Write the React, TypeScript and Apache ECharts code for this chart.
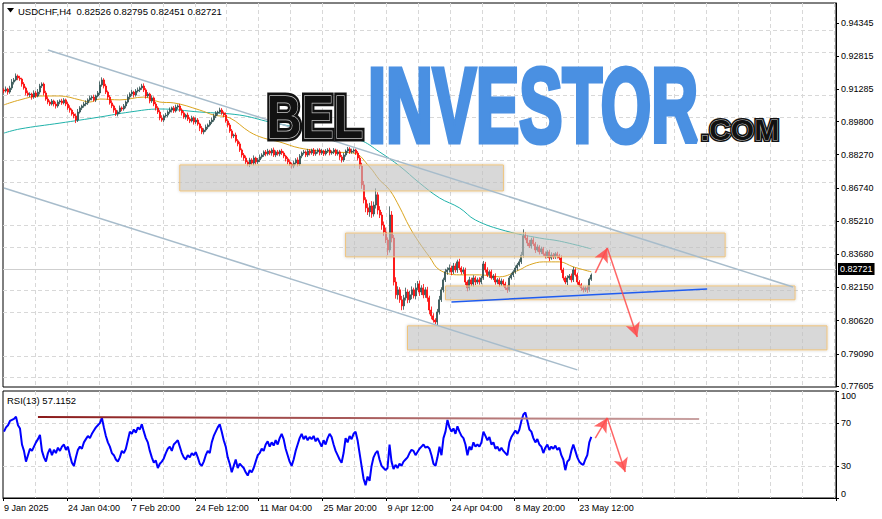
import React, { useEffect, useRef } from "react";
import * as echarts from "echarts";

// ---------- data ----------
const dateLabels = ["9 Jan 2025", "24 Jan 04:00", "7 Feb 20:00", "24 Feb 12:00", "11 Mar 04:00", "25 Mar 20:00", "9 Apr 12:00", "24 Apr 04:00", "8 May 20:00", "23 May 12:00"];
const priceTicks = [0.94345, 0.92815, 0.91285, 0.898, 0.8827, 0.8674, 0.8521, 0.8368, 0.8215, 0.8062, 0.7909, 0.77605];
const rsiTicks = [0, 30, 70, 100];
const rsiGrid = [30, 70];
const ohlcHeader = [0.82526, 0.82795, 0.82451, 0.82721];
const rsiLast = 57.1152;
const firstOpen = 0.9126;

// H4 closes (one entry per 2 bars of the original)
const closes = [
  0.9121, 0.913, 0.9116, 0.9135, 0.9162, 0.9172, 0.919, 0.9181, 0.9176, 0.9153,
  0.9135, 0.9112, 0.9103, 0.9107, 0.9093, 0.9112, 0.9098, 0.9116, 0.9144, 0.9153,
  0.9112, 0.9084, 0.907, 0.9061, 0.9075, 0.9061, 0.9052, 0.907, 0.9075, 0.9066,
  0.908, 0.9061, 0.9043, 0.9033, 0.9015, 0.9006, 0.8987, 0.9024, 0.9043, 0.9052,
  0.9061, 0.9066, 0.908, 0.9089, 0.9093, 0.908, 0.9098, 0.9112, 0.9149, 0.9172,
  0.9144, 0.9116, 0.9093, 0.9066, 0.9052, 0.9033, 0.9015, 0.9024, 0.9043, 0.9038,
  0.9052, 0.907, 0.9093, 0.9107, 0.9116, 0.9103, 0.9121, 0.9126, 0.9135, 0.9144,
  0.9126, 0.9098, 0.9107, 0.9075, 0.9089, 0.9061, 0.9043, 0.9024, 0.8997, 0.8987,
  0.9006, 0.901, 0.9024, 0.9033, 0.9043, 0.9029, 0.9047, 0.9052, 0.9033, 0.902,
  0.9001, 0.901, 0.8992, 0.8983, 0.8997, 0.8978, 0.8987, 0.8969, 0.895, 0.8932,
  0.8941, 0.8955, 0.8964, 0.8978, 0.8987, 0.9006, 0.902, 0.9024, 0.9033, 0.902,
  0.901, 0.8983, 0.8964, 0.8937, 0.8914, 0.8918, 0.8891, 0.8877, 0.8849, 0.8826,
  0.8812, 0.8794, 0.8784, 0.8803, 0.8789, 0.8812, 0.8794, 0.8803, 0.8817, 0.8826,
  0.884, 0.8831, 0.8844, 0.8835, 0.8849, 0.8826, 0.884, 0.8831, 0.8844, 0.8835,
  0.8821, 0.8808, 0.8794, 0.8784, 0.8775, 0.8789, 0.8803, 0.8784, 0.8821, 0.8835,
  0.884, 0.8826, 0.8844, 0.8835, 0.8849, 0.8831, 0.884, 0.8849, 0.8835, 0.8844,
  0.8831, 0.8844, 0.8849, 0.8835, 0.884, 0.8849, 0.8831, 0.884, 0.8817, 0.8803,
  0.8826, 0.8844, 0.8854, 0.884, 0.8844, 0.8849, 0.8835, 0.8812, 0.8775, 0.8688,
  0.8619, 0.8582, 0.8563, 0.8591, 0.8554, 0.8595, 0.8642, 0.8572, 0.8549, 0.8503,
  0.8471, 0.8434, 0.8388, 0.8549, 0.8443, 0.824, 0.8181, 0.8204, 0.8158, 0.813,
  0.8167, 0.8194, 0.8158, 0.8181, 0.8204, 0.8176, 0.8213, 0.8231, 0.8194, 0.8213,
  0.8181, 0.8204, 0.8167, 0.8111, 0.8084, 0.8065, 0.8056, 0.8102, 0.8158, 0.8204,
  0.825, 0.8287, 0.8296, 0.8305, 0.8287, 0.8314, 0.8296, 0.8333, 0.8305, 0.8287,
  0.8296, 0.824, 0.8213, 0.825, 0.8231, 0.8259, 0.824, 0.825, 0.824, 0.8259,
  0.8323, 0.8296, 0.8273, 0.8287, 0.8259, 0.8268, 0.824, 0.825, 0.8231, 0.8245,
  0.8231, 0.8213, 0.8204, 0.8259, 0.8273, 0.8287, 0.8305, 0.8319, 0.8333, 0.8365,
  0.8453, 0.8443, 0.842, 0.8406, 0.8434, 0.8416, 0.8388, 0.8402, 0.8379, 0.8393,
  0.837, 0.8361, 0.8379, 0.8351, 0.8365, 0.8356, 0.837, 0.8361, 0.8351, 0.8296,
  0.8259, 0.824, 0.8259, 0.8268, 0.825, 0.8296, 0.8273, 0.824, 0.8227, 0.8213,
  0.8204, 0.8213, 0.8204, 0.82526, 0.82721,
];

// upper / lower wick lengths in pips, per bar
const wickUp = [
  8, 12, 6, 10, 14, 9, 12, 7, 10, 6, 9, 7, 11, 8, 6, 12, 9, 14, 10, 8,
  7, 10, 12, 8, 9, 6, 11, 9, 7, 10, 8, 6, 10, 12, 7, 9, 11, 14, 8, 6,
  9, 12, 7, 10, 8, 11, 6, 9, 16, 12, 8, 10, 7, 9, 12, 6, 10, 8, 11, 7,
  9, 7, 12, 8, 10, 6, 9, 11, 7, 10, 12, 8, 9, 6, 11, 7, 10, 8, 9, 12,
  7, 10, 8, 12, 6, 9, 11, 7, 10, 8, 9, 6, 11, 8, 10, 7, 12, 9, 6, 10,
  8, 11, 7, 9, 12, 10, 8, 6, 11, 9, 7, 12, 8, 10, 9, 6, 11, 8, 10, 7,
  9, 11, 7, 10, 8, 12, 6, 9, 11, 8, 7, 9, 10, 6, 8, 11, 7, 9, 6, 10,
  8, 6, 9, 11, 7, 10, 8, 12, 9, 7, 9, 7, 10, 8, 6, 9, 11, 7, 8, 10,
  6, 9, 8, 10, 7, 9, 6, 11, 8, 9, 10, 7, 9, 8, 11, 7, 6, 9, 12, 15,
  18, 12, 20, 14, 22, 16, 30, 12, 18, 14, 16, 20, 12, 40, 18, 14, 22, 16, 12, 18,
  14, 20, 12, 18, 16, 10, 22, 14, 16, 12, 18, 12, 14, 10, 16, 12, 8, 14, 18, 12,
  10, 14, 12, 16, 10, 14, 12, 10, 14, 8, 12, 10, 8, 14, 10, 12, 8, 10, 12, 9,
  14, 10, 12, 8, 10, 9, 12, 8, 10, 11, 8, 10, 12, 9, 10, 8, 11, 9, 12, 14,
  30, 16, 12, 14, 10, 12, 9, 11, 8, 10, 9, 11, 8, 10, 12, 9, 8, 10, 9, 12,
  10, 8, 12, 9, 11, 14, 8, 10, 9, 8, 9, 8, 10, 8, 7.4,
];
const wickDown = [
  10, 7, 12, 8, 9, 11, 6, 10, 8, 12, 8, 11, 7, 10, 12, 8, 9, 6, 11, 9,
  12, 8, 10, 9, 7, 11, 12, 8, 10, 9, 7, 10, 9, 12, 8, 11, 14, 9, 7, 10,
  8, 10, 9, 7, 11, 8, 10, 6, 9, 8, 11, 9, 12, 8, 10, 12, 9, 11, 8, 10,
  8, 11, 7, 10, 9, 12, 8, 7, 10, 9, 10, 12, 8, 11, 9, 10, 12, 9, 11, 8,
  9, 7, 10, 8, 11, 9, 7, 10, 8, 12, 8, 11, 9, 10, 7, 12, 9, 8, 14, 10,
  11, 8, 10, 7, 9, 8, 10, 12, 7, 9, 10, 8, 11, 9, 12, 10, 8, 11, 9, 12,
  12, 9, 10, 14, 8, 11, 12, 9, 10, 8, 9, 11, 8, 10, 12, 9, 10, 8, 11, 9,
  10, 12, 11, 9, 12, 10, 8, 11, 9, 10, 8, 10, 9, 11, 8, 10, 9, 8, 11, 9,
  10, 8, 9, 11, 8, 10, 9, 8, 14, 12, 9, 8, 10, 9, 8, 10, 9, 12, 14, 18,
  16, 20, 14, 22, 18, 12, 16, 20, 14, 22, 18, 14, 24, 12, 20, 16, 18, 22, 14, 20,
  18, 12, 16, 14, 20, 12, 16, 10, 18, 14, 16, 14, 18, 20, 16, 12, 10, 14, 12, 10,
  12, 10, 14, 12, 16, 10, 12, 14, 10, 12, 10, 14, 16, 12, 10, 12, 14, 10, 12, 10,
  9, 12, 10, 14, 8, 10, 12, 10, 14, 9, 12, 10, 14, 9, 8, 10, 9, 12, 8, 10,
  12, 10, 14, 9, 12, 10, 14, 8, 12, 10, 9, 12, 10, 14, 8, 10, 9, 12, 10, 14,
  12, 10, 14, 9, 12, 10, 8, 12, 10, 14, 12, 10, 14, 9, 7.5,
];

const rsi = [
  62, 66, 68, 72, 73, 74, 76, 68, 65, 50,
  44, 34, 40, 46, 44, 48, 52, 55, 59, 44,
  38, 34, 42, 46, 40, 45, 42, 47, 44, 48,
  50, 45, 48, 40, 33, 30, 38, 45, 48, 46,
  52, 55, 58, 56, 60, 63, 66, 68, 70, 75,
  66, 58, 52, 48, 42, 40, 36, 34, 38, 44,
  42, 46, 54, 62, 60, 64, 61, 66, 64, 69,
  62, 56, 52, 44, 38, 33, 35, 28, 32, 34,
  37, 42, 46, 48, 44, 50, 52, 54, 48, 42,
  38, 36, 40, 38, 42, 40, 43, 38, 32, 30,
  34, 40, 44, 42, 52, 58, 62, 66, 69, 62,
  54, 48, 38, 32, 24, 30, 36, 28, 32, 30,
  28, 24, 21, 26, 24, 28, 34, 40, 42, 46,
  44, 50, 53, 48, 52, 49, 54, 50, 56, 60,
  55, 46, 40, 34, 30, 36, 44, 50, 56, 60,
  55, 58, 54, 57, 55, 58, 53, 56, 52, 48,
  54, 50, 56, 60, 57, 50, 44, 40, 36, 33,
  42, 56, 52, 58, 55, 60, 62, 54, 42, 30,
  18, 12, 20, 16, 30, 38, 42, 44, 36, 30,
  28, 26, 28, 50, 34, 27, 31, 28, 32, 30,
  34, 36, 38, 42, 45, 44, 40, 43, 46, 48,
  50, 47, 48, 46, 40, 32, 30, 38, 48, 40,
  56, 62, 73, 66, 62, 65, 60, 67, 62, 58,
  56, 50, 40, 48, 45, 52, 48, 50, 48, 52,
  62, 58, 54, 57, 50, 52, 46, 48, 44, 47,
  44, 42, 40, 52, 57, 60, 63, 60, 64, 72,
  78, 80, 72, 64, 62, 56, 52, 55, 50, 48,
  42, 47, 50, 45, 48, 46, 49, 45, 47, 40,
  36, 26, 34, 36, 44, 50, 44, 38, 34, 32,
  31, 36, 40, 52, 57.1152,
];

// moving averages [bar, price]
const maFast = [
  [0, 0.9057], [8, 0.908], [18, 0.9098], [28, 0.9098], [38, 0.908], [43, 0.907], [48, 0.9084],
  [58, 0.908], [70, 0.9093], [78, 0.907], [85, 0.9066], [98, 0.9033], [105, 0.901], [113, 0.8997],
  [123, 0.8932], [130, 0.8904], [138, 0.8886], [148, 0.8858], [163, 0.884], [175, 0.8835],
  [183, 0.8771], [188, 0.8711], [193, 0.8665], [198, 0.8586], [203, 0.8494], [208, 0.842],
  [213, 0.8356], [218, 0.8296], [228, 0.8273], [238, 0.8273], [248, 0.8264], [258, 0.8296],
  [263, 0.8319], [270, 0.8333], [278, 0.8333], [285, 0.831], [294, 0.8287],
];
const maSlow = [
  [0, 0.8927], [8, 0.8946], [28, 0.8973], [48, 0.9001], [63, 0.9024], [78, 0.9038], [98, 0.9024],
  [118, 0.901], [133, 0.8978], [148, 0.895], [163, 0.8918], [178, 0.8895], [188, 0.884],
  [198, 0.8775], [208, 0.8697], [218, 0.8628], [228, 0.8582], [236, 0.8526], [251, 0.8476],
  [268, 0.8443], [278, 0.8429], [294, 0.8393],
];

// drawn objects [bar, price]
const channelUpper = [[22, 0.931], [395, 0.8217]];
const channelLower = [[0, 0.8674], [287, 0.7835]];
const supportLine = [[224, 0.8148], [352, 0.8208]];
const zones = [
  [88, 0.878, 250, 0.866],
  [171, 0.8466, 361, 0.8356],
  [221, 0.8222, 396, 0.8158],
  [202, 0.8038, 412, 0.7927],
];
const priceArrows = [
  [[296, 0.8282], [302, 0.8397]],
  [[302, 0.8397], [317, 0.7987]],
];
const rsiLevel = [[17, 75.7], [348, 73.8]];
const rsiArrows = [
  [[296, 56], [302, 74.8]],
  [[302, 74.8], [311, 24.3]],
];

const BAR_SLOTS = 417;
const PIP = 0.0001;
const FONT = '"Liberation Sans", Arial, sans-serif';

export default function App() {
  const ref = useRef<HTMLDivElement>(null);
  useEffect(() => {
    if (!ref.current) return;
    const chart = echarts.init(ref.current, null, { renderer: "svg" });
    const cats = Array.from({ length: BAR_SLOTS }, (_, i) => String(i));
    const candles = closes.map((c, i) => {
      const o = i === 0 ? firstOpen : closes[i - 1];
      return [o, c, Math.min(o, c) - wickDown[i] * PIP, Math.max(o, c) + wickUp[i] * PIP];
    });
    const lastClose = closes[closes.length - 1];
    const gridLine = { color: "#d8d8d8", type: [4, 3] as any, width: 1 };
    const labelIdx = (i: number) => i % 32 === 0 && i / 32 < dateLabels.length;
    const logoText = (text: string, x: number, y: number, sx: number, sy: number, size: number, fill: string, stroke: string, lw: number, z: number) => ({
      type: "text", z, x, y, scaleX: sx, scaleY: sy,
      style: {
        text, font: `bold ${size}px ${FONT}`, fill, stroke, lineWidth: lw,
        textAlign: "center", align: "center", textVerticalAlign: "middle", verticalAlign: "middle",
      },
    });

    const option: any = {
      animation: false,
      backgroundColor: "#fff",
      textStyle: { fontFamily: FONT },
      grid: [
        { left: 3, top: 3, width: 833, height: 384, show: true, borderColor: "#000", borderWidth: 1, backgroundColor: "transparent" },
        { left: 3, top: 391, width: 833, height: 107, show: true, borderColor: "#000", borderWidth: 1, backgroundColor: "transparent" },
      ],
      xAxis: [
        {
          type: "category", gridIndex: 0, data: cats, boundaryGap: true,
          axisLine: { show: false }, axisTick: { show: false }, axisLabel: { show: false },
          splitLine: { show: true, interval: (i: number) => i % 16 === 0 && i > 0, lineStyle: gridLine },
        },
        {
          type: "category", gridIndex: 1, data: cats, boundaryGap: true,
          axisLine: { show: true, lineStyle: { color: "#000" } },
          axisTick: { show: true, interval: labelIdx, length: 3, lineStyle: { color: "#000" } },
          axisLabel: {
            show: true, interval: labelIdx, formatter: (_v: string, i: number) => dateLabels[i / 32],
            align: "left", fontSize: 9, fontFamily: FONT, color: "#000", margin: 5, hideOverlap: false,
          },
          splitLine: { show: true, interval: (i: number) => i % 16 === 0 && i > 0, lineStyle: gridLine },
        },
      ],
      yAxis: [
        {
          type: "value", gridIndex: 0, position: "right", min: 0.77559, max: 0.95268, scale: true,
          axisLine: { show: true, lineStyle: { color: "#000" } },
          axisTick: { show: true, customValues: priceTicks, length: 3, lineStyle: { color: "#000" } },
          axisLabel: { customValues: priceTicks, formatter: (v: number) => v.toFixed(5), fontSize: 9, fontFamily: FONT, color: "#000", margin: 5 },
          splitLine: { show: false },
        },
        {
          type: "value", gridIndex: 1, position: "right", min: 0, max: 100,
          axisLine: { show: true, lineStyle: { color: "#000" } },
          axisTick: { show: true, customValues: rsiTicks, length: 3, lineStyle: { color: "#000" } },
          axisLabel: {
            customValues: rsiTicks, formatter: (v: number) => String(v), fontSize: 9, fontFamily: FONT, color: "#000", margin: 5,
            verticalAlignMinLabel: "bottom", verticalAlignMaxLabel: "top",
          },
          splitLine: { show: false },
        },
      ],
      series: [
        {
          name: "ma-slow", type: "line", xAxisIndex: 0, yAxisIndex: 0, data: maSlow, smooth: 0.4, showSymbol: false, z: 2,
          lineStyle: { color: "#20b2aa", width: 1 },
          markLine: {
            silent: true, symbol: "none", z: 1, label: { show: false }, lineStyle: gridLine,
            data: priceTicks.map((v) => ({ yAxis: v })),
          },
        },
        {
          name: "ma-fast", type: "line", xAxisIndex: 0, yAxisIndex: 0, data: maFast, smooth: 0.4, showSymbol: false, z: 2,
          lineStyle: { color: "#daa520", width: 1 },
        },
        {
          name: "USDCHF", type: "candlestick", xAxisIndex: 0, yAxisIndex: 0, data: candles, barWidth: 1.5, z: 3,
          itemStyle: { color: "#2f4f4f", color0: "#ff0000", borderColor: "#2f4f4f", borderColor0: "#ff0000", borderWidth: 0.8 },
          markLine: {
            silent: true, symbol: "none", z: 2,
            lineStyle: { color: "#cfcfcf", width: 1, type: "solid" },
            label: {
              show: true, position: "end", formatter: () => lastClose.toFixed(5), backgroundColor: "#000", color: "#fff",
              padding: [2, 2, 1, 2], fontSize: 9, fontFamily: FONT, distance: 2,
            },
            data: [{ yAxis: lastClose }],
          },
        },
        {
          name: "channel-upper", type: "line", xAxisIndex: 0, yAxisIndex: 0, data: channelUpper, showSymbol: false, z: 5,
          lineStyle: { color: "#a7bccb", width: 1.5 },
          markArea: {
            silent: true, z: 4,
            itemStyle: { color: "rgba(200,200,200,0.55)", borderColor: "#f0c47c", borderWidth: 1, shadowBlur: 3, shadowColor: "rgba(0,0,0,0.25)" },
            data: zones.map((z) => [{ coord: [z[0], z[1]] }, { coord: [z[2], z[3]] }]),
          },
        },
        {
          name: "channel-lower", type: "line", xAxisIndex: 0, yAxisIndex: 0, data: channelLower, showSymbol: false, z: 5,
          lineStyle: { color: "#a7bccb", width: 1.5 },
        },
        {
          name: "support", type: "line", xAxisIndex: 0, yAxisIndex: 0, data: supportLine, showSymbol: false, z: 5,
          lineStyle: { color: "#1f5cf0", width: 1.5 },
          markLine: {
            silent: true, z: 6, symbol: ["none", "arrow"], symbolSize: [11, 14],
            label: { show: false }, lineStyle: { color: "#ff4b4b", width: 1.5, type: "solid", opacity: 0.85 },
            data: priceArrows.map((a) => [{ coord: a[0] }, { coord: a[1] }]),
          },
        },
        {
          name: "RSI(13)", type: "line", xAxisIndex: 1, yAxisIndex: 1, data: rsi, showSymbol: false, z: 3,
          lineStyle: { color: "#0000ff", width: 2 },
          markLine: {
            silent: true, symbol: "none", z: 1, label: { show: false }, lineStyle: gridLine,
            data: rsiGrid.map((v) => ({ yAxis: v })),
          },
        },
        {
          name: "rsi-level", type: "line", xAxisIndex: 1, yAxisIndex: 1, data: rsiLevel, showSymbol: false, z: 4,
          lineStyle: {
            width: 2,
            color: new echarts.graphic.LinearGradient(0, 0, 1, 0, [
              { offset: 0, color: "#8b1a1a" },
              { offset: 1, color: "#c9a3a3" },
            ]),
          },
          markLine: {
            silent: true, z: 6, symbol: ["none", "arrow"], symbolSize: [11, 14],
            label: { show: false }, lineStyle: { color: "#ff4b4b", width: 1.5, type: "solid", opacity: 0.85 },
            data: rsiArrows.map((a) => [{ coord: a[0] }, { coord: a[1] }]),
          },
        },
      ],
      graphic: [
        { type: "polygon", z: 100, shape: { points: [[7, 8], [14, 8], [10.5, 12.5]] }, style: { fill: "#000" } },
        {
          type: "text", z: 100, x: 18, y: 11,
          style: {
            text: `USDCHF,H4  ${ohlcHeader.map((v) => v.toFixed(5)).join(" ")}`,
            font: `9.5px ${FONT}`, fill: "#000", textVerticalAlign: "middle", verticalAlign: "middle",
          },
        },
        {
          type: "text", z: 100, x: 7, y: 400,
          style: { text: `RSI(13) ${rsiLast.toFixed(4)}`, font: `9.5px ${FONT}`, fill: "#000", textVerticalAlign: "middle", verticalAlign: "middle" },
        },
        // watermark logo
        logoText("BEL", 315, 117, 0.78, 1.0, 62, "#111", "#111", 7, 100),
        logoText("BEL", 315, 117, 0.78, 1.0, 62, "#111", "#c8c8c8", 1.4, 101),
        logoText("INVESTOR", 533, 105, 0.81, 1.31, 80, "#4a90e2", "#4a90e2", 4, 100),
        logoText(".COM", 740, 129, 1.0, 1.0, 30, "#111", "#111", 4, 100),
        logoText(".COM", 740, 129, 1.0, 1.0, 30, "#111", "#c8c8c8", 1, 101),
      ],
    };
    chart.setOption(option);
    return () => chart.dispose();
  }, []);
  return <div ref={ref} style={{ position: "absolute", left: 0, top: 0, width: 882, height: 519 }} />;
}
